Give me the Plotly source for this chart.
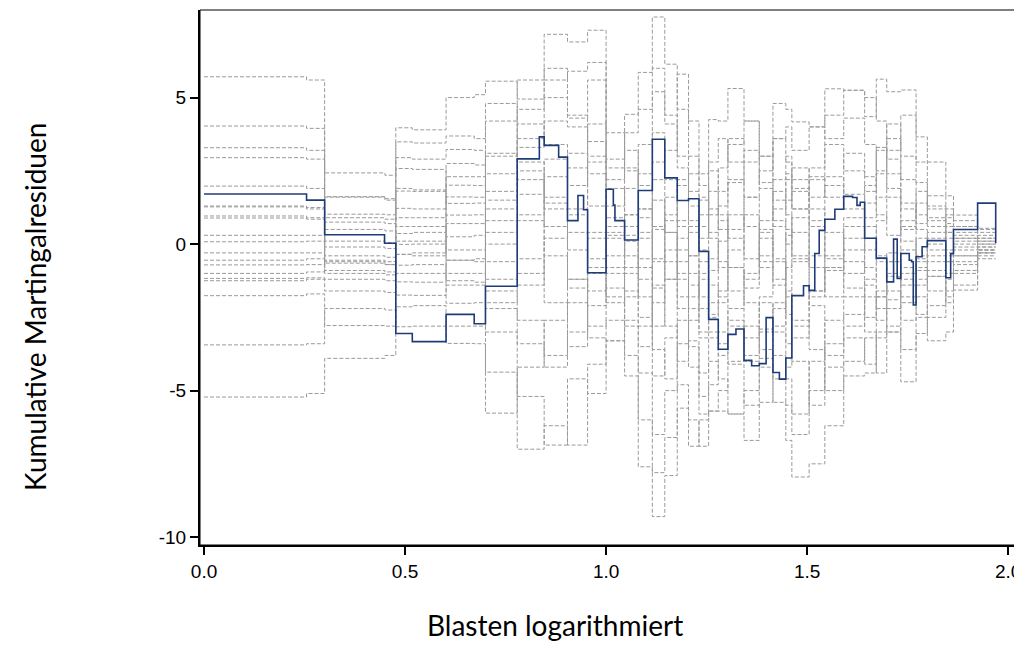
"""
Cumulative martingale residuals against log blast count,
observed path (blue) with simulated paths (grey dashed).
"""
import plotly.graph_objects as go

# Event positions of the observed path
obs_x = [0.0, 0.255, 0.30, 0.449, 0.477, 0.518, 0.602, 0.672, 0.70, 0.779,
         0.834, 0.846, 0.882, 0.904, 0.93, 0.944, 0.954, 1.0, 1.018, 1.022,
         1.046, 1.08, 1.115, 1.146, 1.177, 1.205, 1.231, 1.255, 1.279, 1.303,
         1.323, 1.343, 1.362, 1.381, 1.398, 1.415, 1.431, 1.447, 1.462, 1.491,
         1.505, 1.519, 1.530, 1.544, 1.569, 1.591, 1.613, 1.624, 1.632, 1.643,
         1.672, 1.698, 1.715, 1.724, 1.733, 1.754, 1.760, 1.764, 1.771, 1.786,
         1.799, 1.845, 1.857, 1.864, 1.924, 1.969]
obs_y = [1.71, 1.50, 0.32, 0.03, -3.05, -3.33, -2.40, -2.72, -1.44, 2.91,
         3.66, 3.37, 2.97, 0.80, 1.66, 1.17, -0.98, 1.87, 1.33, 0.80,
         0.14, 1.83, 3.58, 2.26, 1.49, 1.55, -0.25, -2.57, -3.59, -3.08,
         -2.90, -3.97, -4.15, -4.08, -2.51, -4.38, -4.61, -3.89, -1.76, -1.42,
         -1.58, -0.32, 0.47, 0.85, 1.19, 1.63, 1.59, 1.32, 1.43, 0.20,
         -0.48, -1.29, 0.17, -1.17, -0.32, -0.55, -0.60, -2.08, -0.43, -0.09,
         0.12, -1.15, -0.33, 0.50, 1.40, 0.03]

# Event positions used for the simulated paths
sim_x = [0.0, 0.255, 0.30, 0.45, 0.477, 0.518, 0.602, 0.672, 0.70, 0.779,
         0.846, 0.904, 0.954, 1.0, 1.046, 1.08, 1.115, 1.146, 1.177, 1.205,
         1.231, 1.255, 1.279, 1.303, 1.343, 1.381, 1.415, 1.447, 1.462, 1.505,
         1.544, 1.591, 1.643, 1.672, 1.698, 1.733, 1.771, 1.799, 1.845, 1.864,
         1.924, 1.969]

sim_01 = [5.71, 5.6, 1.6, 1.5, 3.97, 3.9, 5.0, 5.1, 5.56, 4.95, 7.16, 6.9, 7.3, 3.8, 2.5, 1.2, -0.5, 1.0, 2.2, 0.4, -1.0,
          -2.5, -2.0, -0.8, -1.5, -0.4, 0.6, 1.5, 2.6, 2.2, 3.4, 2.5, 1.8, 3.3, 2.9, 1.4, 0.5, -0.2, 0.4, 0.2, 0.1, 0.1]
sim_02 = [4.03, 3.95, 2.43, 2.35, 3.49, 3.45, 3.69, 3.6, 4.2, 4.6, 5.6, 5.9, 6.2, 2.9, 4.43, 5.86, 7.75, 6.14, 4.6, 3.0, 2.4,
          4.25, 4.2, 5.31, 4.2, 3.0, 3.6, 2.8, 2.2, 1.6, 2.3, 1.7, 0.9, 1.6, 2.4, 1.2, 0.7, 1.65, 1.2, 0.99, 0.54, 0.3]
sim_03 = [3.29, 3.2, 0.9, 0.85, 2.95, 2.9, 3.23, 3.2, 1.8, 3.6, 4.2, 4.0, 3.0, 0.9, 1.9, 3.4, 5.2, 4.1, 2.6, 1.3, 0.2,
          1.8, 2.6, 3.4, 4.2, 2.1, 4.8, 4.6, 4.17, 4.0, 5.3, 5.25, 4.35, 5.63, 5.2, 5.26, 3.66, 1.2, 0.9, 0.6, 0.2, 0.2]
sim_04 = [2.95, 2.9, 1.02, 1.0, 1.90, 1.85, 2.75, 2.7, 3.1, 2.2, 1.4, 2.0, 4.1, 2.6, 3.2, 2.0, 0.6, -1.2, -0.6, -2.2, -3.0,
          -1.4, -1.8, -2.8, -4.0, -2.9, -2.0, -3.4, -3.2, -1.6, -0.8, -1.5, -2.5, -1.6, -1.0, -1.8, -1.2, -0.4, -1.0, -0.6, -0.3, -0.3]
sim_05 = [1.98, 1.9, 0.1, 0.05, 1.22, 1.2, 2.01, 2.0, 0.4, 1.7, 2.9, 3.1, 2.4, -0.8, 0.3, -1.8, -4.5, -3.2, -1.2, -3.3, -4.4,
          -3.2, -3.0, -4.1, -5.5, -4.2, -5.4, -6.7, -7.95, -7.5, -6.2, -4.5, -4.4, -3.2, -2.8, -3.6, -2.5, -3.3, -3.0, -1.57, -0.4, -0.4]
sim_06 = [1.27, 1.2, -0.6, -0.7, 0.36, 0.4, 1.61, 1.6, 2.4, 4.1, 3.4, 2.6, 1.3, 0.3, -0.8, 0.9, 2.8, 3.2, 5.8, 4.2, 2.0,
          1.2, 0.5, 2.1, 3.2, 1.9, 0.8, 0.0, 0.9, 2.3, 1.6, 3.1, 2.3, 1.0, 0.3, 0.8, 1.8, 0.6, 0.2, -0.1, -0.1, -0.1]
sim_07 = [1.3, 1.25, 0.5, 0.45, -0.35, -0.3, 0.25, 0.3, -2.2, -3.4, -4.2, -3.0, -2.1, -1.5, -2.6, -4.4, -6.5, -5.0, -3.4, -1.8, -0.6,
          -2.4, -1.6, -0.2, 1.0, -0.6, -1.2, 0.5, -0.5, -2.1, -3.8, -2.8, -1.2, -0.4, -1.6, -2.6, -1.4, -0.9, -1.8, -1.0, -0.2, -0.2]
sim_08 = [0.96, 0.9, -0.1, -0.15, 0.9, 0.9, 0.99, 1.0, -0.6, -1.4, 0.2, 1.2, 2.8, 1.9, 0.6, -0.5, 1.5, 0.4, -1.0, 0.6, 1.5,
          0.4, 1.3, 2.2, 0.6, -0.8, 1.2, 2.2, 1.2, -0.4, 0.4, -0.6, -1.8, -2.6, -1.1, -0.2, -0.8, 0.4, 0.6, 0.3, 0.0, 0.0]
sim_09 = [0.89, 0.85, -0.4, -0.45, -1.0, -1.0, -0.55, -0.5, 1.2, 2.5, 1.2, -0.2, -1.6, 0.4, 1.0, 2.4, 3.8, 2.2, 0.6, -0.4, -1.8,
          -0.9, 0.1, 1.0, -0.5, 0.8, 2.2, 3.0, 1.9, 0.6, -0.9, 0.2, 1.4, 2.4, 3.6, 2.2, 1.0, 0.8, -0.2, 0.2, 0.3, 0.3]
sim_10 = [0.30, 0.3, -0.55, -0.6, -1.29, -1.3, -1.0, -1.0, 0.8, -0.5, -2.0, -3.5, -1.0, -2.0, -1.0, -2.5, -1.4, -0.2, -2.2, -3.5, -5.2,
          -4.0, -4.6, -5.8, -6.7, -5.4, -3.8, -4.6, -5.8, -4.0, -2.6, -1.8, -3.0, -4.4, -3.0, -4.7, -3.05, -2.1, -1.6, -0.9, -0.3, -0.3]
sim_11 = [0.08, 0.1, 1.62, 1.55, -0.01, 0.0, -1.25, -1.3, -3.0, -5.2, -6.86, -4.6, -5.1, -3.3, -4.5, -7.6, -9.3, -7.9, -5.6, -6.9, -6.0,
          -5.7, -5.0, -4.0, -2.8, -3.6, -4.6, -5.5, -6.5, -5.0, -3.4, -2.4, -1.4, -2.2, -3.0, -2.0, -0.9, -1.6, -0.6, -0.2, 0.0, 0.0]
sim_12 = [-0.55, -0.5, -0.9, -0.95, -0.72, -0.7, -2.02, -2.0, -4.37, -7.0, -6.2, -6.86, -4.1, -2.6, -3.8, -6.0, -7.8, -6.6, -4.8, -6.0, -6.9,
          -5.7, -5.7, -5.8, -5.0, -3.9, -2.8, -1.6, -2.6, -3.6, -5.0, -4.0, -3.2, -1.8, -0.6, -1.4, -2.4, -1.1, -0.3, 0.1, 0.2, 0.2]
sim_13 = [-0.71, -0.7, 0.75, 0.7, 2.58, 2.55, 1.39, 1.4, -1.2, 0.8, -0.4, -1.5, 0.2, -1.0, 0.1, 1.2, -1.5, -2.8, -4.0, -2.6, -1.2,
          -3.0, -3.8, -2.2, -1.0, 0.4, -0.5, -1.8, -0.6, 0.8, 2.0, 1.2, -0.2, 0.8, 1.6, 0.1, -0.5, 0.2, 1.0, 0.6, 0.4, 0.4]
sim_14 = [-1.0, -0.95, -0.65, -0.7, 1.81, 1.8, -0.55, -0.6, -2.0, -1.0, 1.6, 0.4, -0.5, -1.8, -2.8, -3.5, -2.0, -0.6, 0.8, 2.4, 1.6,
          0.2, -0.8, 0.5, 1.6, 2.5, 3.6, 4.0, 3.2, 4.0, 3.6, 4.3, 3.4, 2.5, 4.1, 3.0, 2.1, 1.3, 0.4, 0.0, -0.2, -0.2]
sim_15 = [-1.17, -1.15, -1.2, -1.25, -1.74, -1.75, -1.4, -1.4, 0.0, 1.0, 2.3, 1.0, -0.8, 1.3, 2.6, 0.4, -2.8, -1.2, 0.2, -1.0, -2.2,
          -0.5, 0.8, -0.8, -2.0, -3.0, -2.2, -0.8, 0.4, -0.8, -1.8, -0.2, 0.6, -0.6, -2.2, -1.0, 0.2, -0.6, -0.4, -0.4, -0.5, -0.5]
sim_16 = [-1.25, -1.2, -1.6, -1.65, 0.6, 0.6, -0.2, -0.2, 1.5, 3.3, 5.0, 4.3, 5.6, 2.2, 3.8, 4.6, 6.0, 4.4, 3.0, 1.8, 0.6,
          2.8, 3.6, 2.8, 1.6, 0.5, 1.8, 1.0, -0.4, -1.8, -0.4, 0.9, 2.0, 3.2, 1.9, 0.5, 1.4, 0.9, 0.7, 0.4, 0.1, 0.1]
sim_17 = [-1.76, -1.7, -2.78, -2.8, -2.14, -2.1, -3.39, -3.4, -5.77, -4.2, -2.6, -1.2, -2.8, 0.6, -0.4, -1.2, 0.5, 1.6, -0.2, -1.4, -3.2,
          -2.0, -0.6, -1.6, -3.2, -1.8, -0.6, -2.4, -4.0, -5.5, -4.2, -3.2, -4.1, -3.0, -1.9, -0.8, -1.8, -2.5, -1.2, -0.7, -0.2, -0.2]
sim_18 = [-3.44, -3.4, -2.2, -2.25, -2.82, -2.8, -2.8, -2.8, -1.6, -2.6, -3.8, -2.0, 0.4, -0.4, 1.0, -0.8, -3.6, -4.6, -2.6, -4.2, -5.8,
          -4.8, -3.4, -2.6, -3.8, -2.0, -3.0, -4.2, -2.8, -1.6, -0.8, 0.6, -0.8, -1.8, -0.6, 0.6, -0.4, 0.0, -0.6, -0.4, -0.3, -0.3]
sim_19 = [-5.22, -5.1, -3.9, -3.8, 0.1, 0.1, 0.7, 0.7, 3.0, 5.6, 6.0, 4.4, 3.5, 0.2, -1.6, -2.8, -0.6, 0.8, 2.0, 0.8, -0.2,
          1.0, 1.8, 3.6, 2.8, 3.0, 1.5, 2.4, 1.2, 2.6, 4.4, 5.25, 5.0, 4.2, 3.2, 4.4, 2.8, 2.8, 1.65, 0.8, 0.5, 0.5]
sim_20 = [-0.3, -0.3, -1.0, -1.05, -0.35, -0.4, 2.3, 2.3, 4.8, 2.8, 0.6, -1.2, -3.2, -3.3, -1.8, 0.2, 2.2, 0.4, -1.8, -0.4, 1.0,
          2.5, 1.0, 0.2, -1.2, 0.2, -1.4, 0.3, 1.8, 1.2, -0.5, -1.0, 0.2, -0.5, -0.3, -1.2, -0.6, -1.1, -2.0, -1.4, -0.1, -0.1]

sim_paths = [sim_01, sim_02, sim_03, sim_04, sim_05, sim_06, sim_07, sim_08, sim_09, sim_10,
             sim_11, sim_12, sim_13, sim_14, sim_15, sim_16, sim_17, sim_18, sim_19, sim_20]

x_ticks = [0.0, 0.5, 1.0, 1.5, 2.0]
x_tick_labels = ["0.0", "0.5", "1.0", "1.5", "2.0"]
y_ticks = [5, 0, -5, -10]
y_tick_labels = ["5", "0", "-5", "-10"]

fig = go.Figure()

# Simulated paths
for path in sim_paths:
    fig.add_trace(go.Scatter(x=sim_x, y=path, mode="lines",
                             line=dict(shape="hv", color="#9a9a9a", width=1, dash="4px,2px"),
                             hoverinfo="skip"))

# Observed path
fig.add_trace(go.Scatter(x=obs_x, y=obs_y, mode="lines",
                         line=dict(shape="hv", color="#1f3c78", width=1.6)))

# page body has an 8px margin, so the figure is sized and offset for it
fig.update_layout(width=1014, height=638,
                  margin=dict(l=192, r=7, t=2, b=101),
                  plot_bgcolor="white", paper_bgcolor="white",
                  showlegend=False,
                  font=dict(family="Liberation Sans, Arial", size=19, color="black"),
                  shapes=[dict(type="rect", xref="paper", yref="paper",
                               x0=0, y0=0, x1=1, y1=1,
                               line=dict(color="black", width=1), layer="above")],
                  annotations=[
                      dict(text="Blasten logarithmiert", xref="paper", yref="paper",
                           x=0.4356, y=-0.150, showarrow=False, xanchor="center", yanchor="middle",
                           font=dict(family="Lato, Open Sans", size=28, color="black")),
                      dict(text="Kumulative Martingalresiduen", xref="paper", yref="paper",
                           x=-0.2025, y=0.445, showarrow=False, textangle=-90,
                           xanchor="center", yanchor="middle",
                           font=dict(family="Lato, Open Sans", size=28, color="black"))])

fig.update_xaxes(range=[-0.01, 2.017], tickvals=x_ticks, ticktext=x_tick_labels,
                 showgrid=False, zeroline=False, showline=True, linecolor="black", linewidth=2,
                 ticks="outside", ticklen=8, tickwidth=1.5, tickcolor="black")
fig.update_yaxes(range=[-10.27, 7.99], tickvals=y_ticks, ticktext=y_tick_labels,
                 showgrid=False, zeroline=False, showline=True, linecolor="black", linewidth=2,
                 ticks="outside", ticklen=8, tickwidth=1.5, tickcolor="black")

fig.write_html("out.html")
